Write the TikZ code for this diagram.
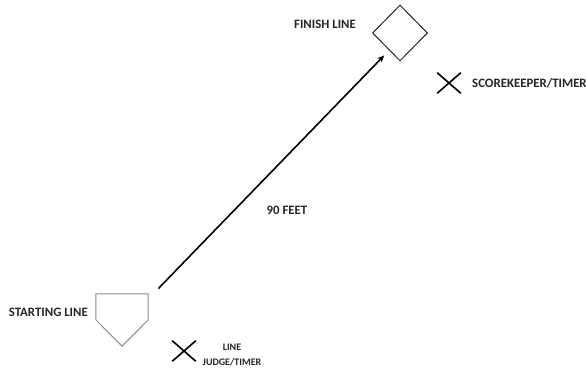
\documentclass[tikz,border=0pt]{standalone}
\usepackage{fontspec}
\setmainfont{Carlito}
\usetikzlibrary{shapes.geometric,shapes.misc,arrows.meta}
\begin{document}
\begin{tikzpicture}[x=1pt,y=-1pt,
  lbl/.style={font=\fontsize{12.8}{14}\selectfont\bfseries, text=black!85, inner sep=0pt},
  base/.style={draw=black!85, line width=1pt, inner sep=0pt},
  xmark/.style={cross out, draw=black, line width=1.6pt, inner sep=0pt, minimum width=22pt, minimum height=19pt},
  runarrow/.style={line width=1.6pt, -{Stealth[length=7pt,width=6pt]}}]
\useasboundingbox (0,0) rectangle (586,371);
\clip (0,0) rectangle (586,371);
% finish diamond
\node[base, diamond, minimum width=55pt, minimum height=56pt] (finish) at (400,33) {};
% home plate (outline drawn in a named invisible box)
\node[inner sep=0pt, minimum width=52pt, minimum height=52pt] (home) at (122,320) {};
\draw[draw=black!45, line width=1pt, line join=miter]
  (home.north west) -- (home.north east) -- ([yshift=-26pt]home.north east)
  -- (home.south) -- ([yshift=-26pt]home.north west) -- cycle;
% arrow
\draw[runarrow, shorten <=48pt, shorten >=27pt] ([xshift=3pt,yshift=-3pt]home.center) -- ([xshift=3pt,yshift=-3pt]finish.center);
% marks
\node[xmark] (sk) at (449,83) {};
\node[xmark] (lj) at (184,351) {};
% labels
\node[lbl] (finlbl) at (325,24) {FINISH LINE};
\node[lbl, anchor=west] (sklbl) at (472,83) {SCOREKEEPER/TIMER};
\node[lbl] (ft) at (287,210) {90 FEET};
\node[lbl, anchor=east] (stlbl) at (88,312) {STARTING LINE};
\node[lbl, align=center, font=\fontsize{10}{15}\selectfont\bfseries] (ljlbl) at (232,355) {LINE\\JUDGE/TIMER};
\end{tikzpicture}
\end{document}
